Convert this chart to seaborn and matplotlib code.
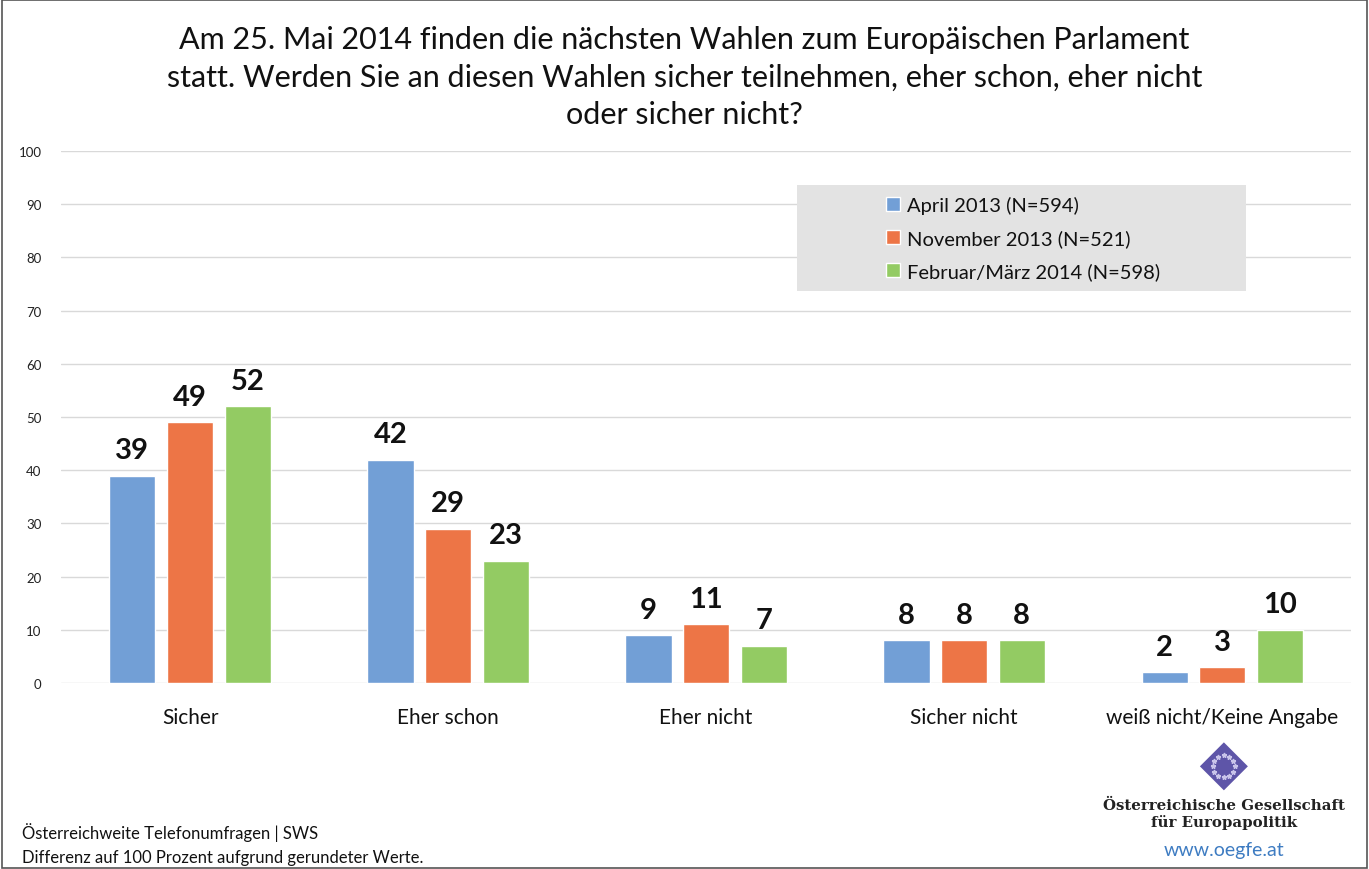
import matplotlib
matplotlib.use("Agg")
import matplotlib.pyplot as plt
import seaborn as sns
import pandas as pd
import numpy as np

categories = ["Sicher", "Eher schon", "Eher nicht", "Sicher nicht", "weiß nicht/Keine Angabe"]
series = ["April 2013 (N=594)", "November 2013 (N=521)", "Februar/März 2014 (N=598)"]
april_2013 = [39, 42, 9, 8, 2]
nov_2013 = [49, 29, 11, 8, 3]
feb_2014 = [52, 23, 7, 8, 10]
colors = ["#729FD6", "#ED7546", "#93CB63"]

title = ("Am 25. Mai 2014 finden die nächsten Wahlen zum Europäischen Parlament\n"
         "statt. Werden Sie an diesen Wahlen sicher teilnehmen, eher schon, eher nicht\n"
         "oder sicher nicht?")

df = pd.DataFrame({
    "Kategorie": categories * 3,
    "Welle": [s for s in series for _ in categories],
    "Wert": april_2013 + nov_2013 + feb_2014,
})

sns.set_style("white")
plt.rcParams["font.family"] = ["Lato", "DejaVu Sans"]

fig = plt.figure(figsize=(13.69, 8.70), dpi=100)
ax = fig.add_axes([0.0446, 0.2138, 0.9424, 0.6115])

sns.barplot(data=df, x="Kategorie", y="Wert", hue="Welle", palette=colors,
            order=categories, hue_order=series, width=0.67, gap=0.2,
            ax=ax, zorder=3, saturation=1)

for cont in ax.containers:
    ax.bar_label(cont, fmt="%d", padding=9, fontsize=21, fontweight="bold", color="#111111")

ax.set_ylim(0, 100)
ax.set_xlim(-0.5, 4.5)
ax.set_yticks(range(0, 101, 10))
ax.yaxis.grid(True, color="#D9D9D9", linewidth=1, zorder=0)
ax.tick_params(axis="y", labelsize=9.5, length=0, pad=14, labelcolor="#222222")
ax.tick_params(axis="x", labelsize=15, length=0, pad=17, labelcolor="#111111")
ax.set_xlabel("")
ax.set_ylabel("")
for s in ax.spines.values():
    s.set_visible(False)

# legend on a grey panel
ax.add_patch(matplotlib.patches.Rectangle(
    (0.5705, 0.737), 0.348, 0.199, transform=ax.transAxes,
    facecolor="#E3E3E3", edgecolor="none", zorder=4))
leg = ax.legend(loc="upper left", bbox_to_anchor=(0.627, 0.945), frameon=False,
                fontsize=14.5, handlelength=0.7, handleheight=0.7, handletextpad=0.35,
                labelspacing=0.75, borderpad=0.3)
leg.set_zorder(5)
for t in leg.get_texts():
    t.set_color("#111111")

fig.text(0.5, 0.97, title, ha="center", va="top", fontsize=22,
         linespacing=1.42, color="#111111")

fig.text(0.016, 0.043, "Österreichweite Telefonumfragen | SWS", fontsize=12,
         color="#111111", va="center")
fig.text(0.016, 0.014, "Differenz auf 100 Prozent aufgrund gerundeter Werte.",
         fontsize=12, color="#111111", va="center")

# logo
fig.text(0.894, 0.064, "Österreichische Gesellschaft\nfür Europapolitik",
         ha="center", va="center", fontsize=10.8, fontweight="bold",
         family="DejaVu Serif", color="#222222", linespacing=1.2)
fig.text(0.894, 0.022, "www.oegfe.at", ha="center", va="center", fontsize=14,
         color="#3E7CC2")
lx, ly = 0.894, 0.118
fig.patches.append(matplotlib.patches.RegularPolygon(
    (lx * 1369, ly * 870), numVertices=4, radius=24, orientation=0,
    transform=None, facecolor="#5E55A8", edgecolor="none"))
ang = np.linspace(0, 2 * np.pi, 12, endpoint=False)
fig.add_artist(matplotlib.lines.Line2D(
    lx * 1369 + 11 * np.cos(ang), ly * 870 + 11 * np.sin(ang),
    transform=None, linestyle="none", marker="*", markersize=3.5,
    color="#C9C4EA"))

fig.patches.append(matplotlib.patches.Rectangle(
    (0.0015, 0.0015), 0.997, 0.997, transform=fig.transFigure,
    fill=False, edgecolor="#555555", linewidth=1.2))

fig.savefig("out.png", dpi=100)
